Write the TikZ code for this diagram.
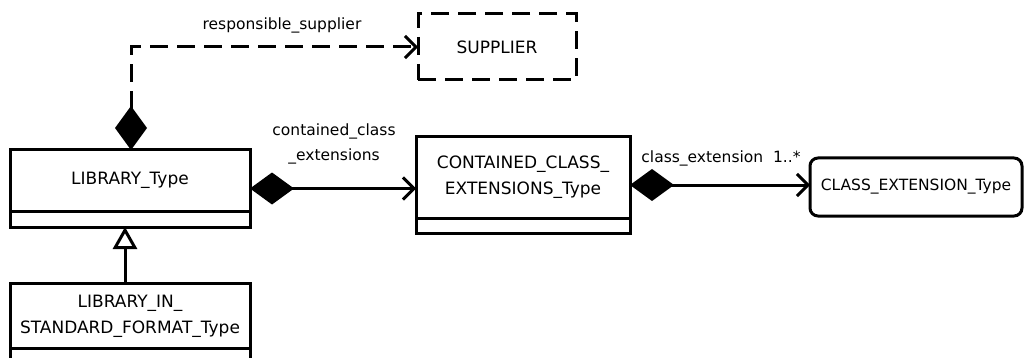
\documentclass[tikz,border=0pt]{standalone}
\usepackage{fontspec}
\setmainfont{DejaVu Sans}
\usetikzlibrary{arrows.meta,positioning,calc}
\tikzset{every picture/.style={line width=3pt}}

\begin{document}
\begin{tikzpicture}[x=1pt,y=1pt,yscale=-1,xscale=1,
  font=\fontsize{15.5}{25}\selectfont,
  clsbox/.style={draw, rectangle, inner sep=0pt, outer sep=0pt, align=center,
    font=\fontsize{17}{26}\selectfont},
  dashes/.style={dash pattern=on 18pt off 9pt},
  comp/.style={{Diamond[length=44pt,width=32pt]}-{Straight Barb[length=11pt,width=22pt]}},
  inherit/.style={-{Triangle[open,length=22pt,width=24pt,fill=white]}}]
\useasboundingbox (0,0) rectangle (1024,358);

%Classes
\node[clsbox, minimum width=240, minimum height=61] (lib) at (130,180.5) {LIBRARY\_Type};
\node[clsbox, minimum width=240, minimum height=16, below=0pt of lib] (libx) {};

\node[clsbox, minimum width=240, minimum height=65] (std) at (130,316) {LIBRARY\_IN\_\\STANDARD\_FORMAT\_Type};
\node[clsbox, minimum width=240, minimum height=24, below=0pt of std] (stdx) {};

\node[clsbox, minimum width=214, minimum height=81] (cce) at (523,177.5) {CONTAINED\_CLASS\_\\EXTENSIONS\_Type};
\node[clsbox, minimum width=214, minimum height=15, below=0pt of cce] (ccex) {};

\node[clsbox, dashes, minimum width=158, minimum height=66] (sup) at (497,47) {SUPPLIER};
\node[clsbox, rounded corners=8pt, minimum width=212, minimum height=58,
  font=\fontsize{15.5}{25}\selectfont] (clx) at (916,187) {CLASS\_EXTENSION\_Type};

\coordinate (libE) at ($(lib.north east)!.5!(libx.south east)$);
\coordinate (cceE) at ($(cce.north east)!.5!(ccex.south east)$);

%Connectors
\draw[comp, dashes] ([xshift=1pt]lib.north) |- (sup.west);
\draw[comp] (libE) -- (libE -| cce.west);
\draw[comp] (cceE) -- (cceE -| clx.west);
\draw[inherit] ([xshift=-5pt]std.north) -- ([xshift=-5pt]libx.south);

%Labels
\node (lbsup) at (282,25) {responsible\_supplier};
\node[align=center] (lbcce) at (334,144) {contained\_class\\\_extensions};
\node (lbclx) at (721,158) {class\_extension\ \ 1..*};

\end{tikzpicture}
\end{document}
